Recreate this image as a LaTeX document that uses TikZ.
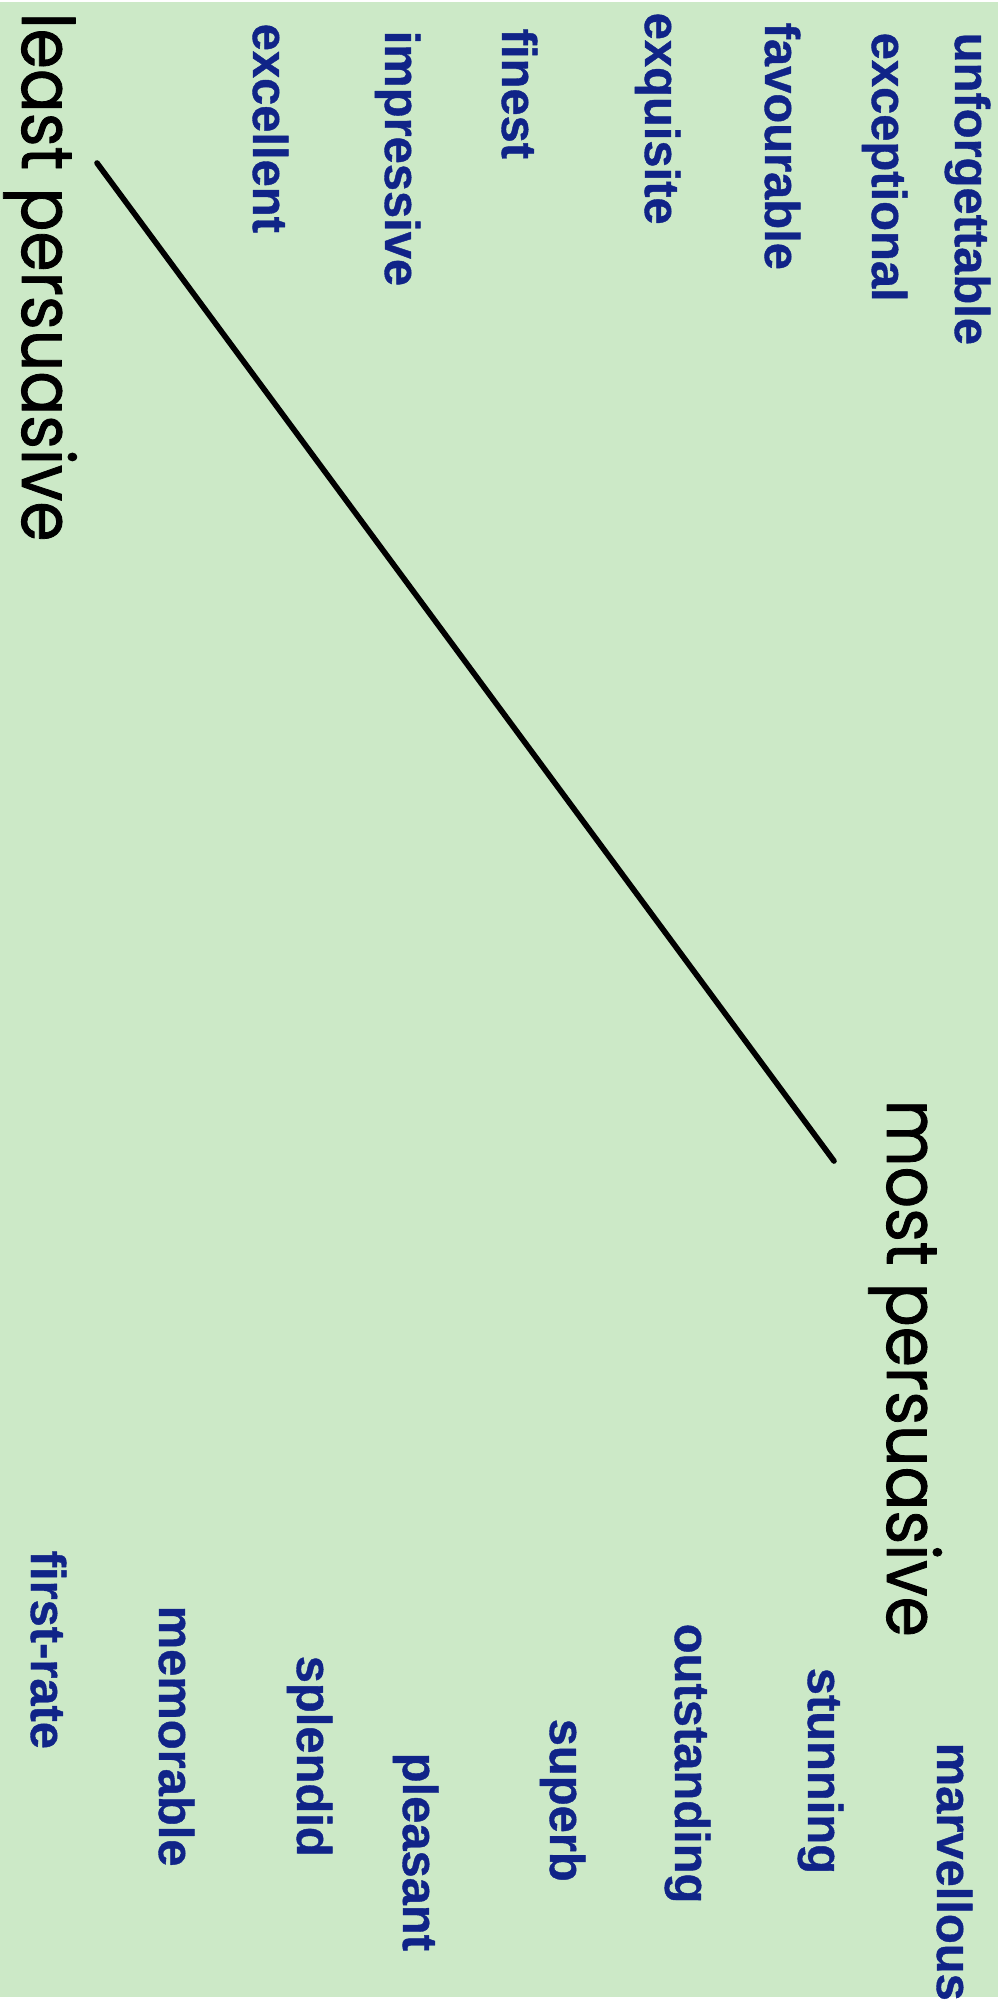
\documentclass[tikz,border=0pt]{standalone}
\usepackage{fontspec}
\newfontfamily\wordfont{Liberation Sans}[BoldFeatures={FakeBold=0.8}]
\newfontfamily\endfont{Poppins}[FakeBold=1.2]
\definecolor{paper}{RGB}{204,233,199}
\definecolor{wordblue}{RGB}{16,36,136}
\newcommand{\narrow}[1]{\scalebox{0.9}[1]{#1}}

\begin{document}
\begin{tikzpicture}[x=0.01cm,y=-0.01cm,line cap=round,line join=round,
  word/.style={rotate=-90,anchor=base west,inner sep=0pt,text=wordblue,
    font=\fontsize{13.9}{16}\selectfont\wordfont\bfseries},
  pole/.style={rotate=-90,anchor=base west,inner sep=0pt,text=black,
    font=\fontsize{20.5}{24}\selectfont\endfont}]
  \useasboundingbox (0,0) rectangle (998,2011);
  \fill[white] (0,0) rectangle (998,2011);
  \fill[paper] (0,2) rectangle (998,1997);
  % words near the weak end
  \node[word] (unforgettable) at (955,32) {unforgettable};
  \node[word] (exceptional) at (872,32) {exceptional};
  \node[word] (favourable) at (765,22) {favourable};
  \node[word] (exquisite) at (645,12) {exquisite};
  \node[word] (finest) at (502,28) {finest};
  \node[word] (impressive) at (385,30) {impressive};
  \node[word] (excellent) at (253,23) {excellent};
  % words near the strong end
  \node[word] (marvellous) at (937,1742) {marvellous};
  \node[word] (stunning) at (808,1667) {stunning};
  \node[word] (outstanding) at (675,1623) {outstanding};
  \node[word] (superb) at (550,1718) {superb};
  \node[word] (pleasant) at (403,1752) {pleasant};
  \node[word] (splendid) at (297,1655) {splendid};
  \node[word] (memorable) at (159,1605) {memorable};
  \node[word] (firstrate) at (31,1550) {first-rate};
  % the scale
  \node[pole] (least) at (22,12) {\narrow{least persuasive}};
  \node[pole] (most) at (887,1099) {\narrow{most persuasive}};
  \coordinate (lo) at (97,163);
  \coordinate (hi) at (834,1161);
  \draw[line width=1.6pt] (lo) -- (hi);
\end{tikzpicture}
\end{document}
